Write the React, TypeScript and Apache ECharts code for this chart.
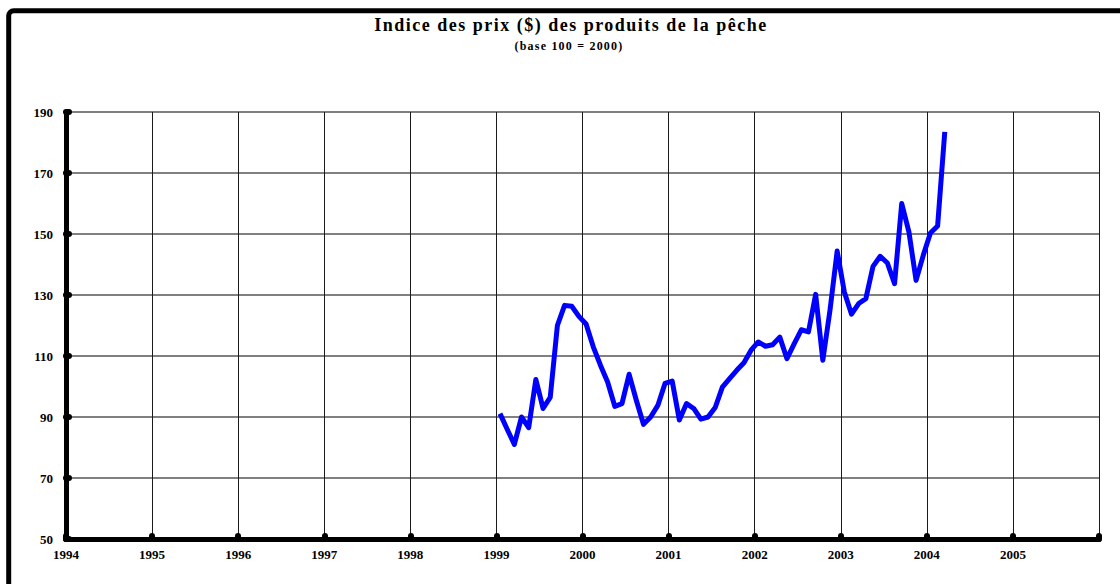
import React, { useEffect, useRef } from "react";
import * as echarts from "echarts";

const titleText = "Indice des prix ($) des produits de la pêche";
const subtitleText = "(base 100 = 2000)";
const startYear = 1999;
// monthly index values, Jan 1999 .. Mar 2004
const values1999 = [91.1, 86, 81, 90, 86.5, 102.3, 92.8, 96.4, 120, 126.6, 126.3, 123];
const values2000 = [120.5, 113, 107, 101.5, 93.5, 94.4, 104, 95.5, 87.6, 90, 93.8, 101];
const values2001 = [101.8, 89, 94.4, 92.8, 89.3, 90, 93.1, 99.8, 102.6, 105.3, 107.8, 111.9];
const values2002 = [114.6, 113.2, 113.7, 116.2, 109.1, 114, 118.6, 117.9, 130.2, 108.6, 125, 144.4];
const values2003 = [131, 123.7, 127.2, 128.8, 139.4, 142.7, 140.5, 133.7, 160, 150.7, 134.8, 143];
const values2004 = [150.3, 152.6, 183.5];
const xMinYear = 1994;
const xMaxYear = 2006;
const yMin = 50;
const yMax = 190;
const yStep = 20;

const allValues = [
  ...values1999,
  ...values2000,
  ...values2001,
  ...values2002,
  ...values2003,
  ...values2004,
];

export default function App() {
  const ref = useRef<HTMLDivElement>(null);
  useEffect(() => {
    if (!ref.current) return;
    const chart = echarts.init(ref.current, null, { renderer: "svg" });
    const data = allValues.map((v, i) => [startYear + (i + 0.5) / 12, v]);
    const font = "Liberation Serif";
    chart.setOption({
      animation: false,
      backgroundColor: "#ffffff",
      grid: { left: 66, right: 21, top: 112, bottom: 45, containLabel: false },
      graphic: [
        {
          type: "rect",
          shape: { x: 8.7, y: 10.8, width: 2000, height: 2000, r: 5 },
          style: { fill: "none", stroke: "#000", lineWidth: 5 },
          silent: true,
        },
        {
          type: "text",
          x: 571,
          y: 25,
          silent: true,
          style: {
            text: titleText,
            fontFamily: font,
            fontWeight: "bold",
            fontSize: 18,
            fill: "#000",
            textAlign: "center",
            textVerticalAlign: "middle",
          },
        },
        {
          type: "text",
          x: 569,
          y: 46,
          silent: true,
          style: {
            text: subtitleText,
            fontFamily: font,
            fontWeight: "bold",
            fontSize: 12,
            fill: "#000",
            textAlign: "center",
            textVerticalAlign: "middle",
          },
        },
      ],
      xAxis: {
        type: "value",
        min: xMinYear,
        max: xMaxYear,
        interval: 1,
        axisLine: { show: true, lineStyle: { color: "#000", width: 5 } },
        axisTick: {
          show: true,
          inside: true,
          length: 3,
          lineStyle: { color: "#000", width: 6, cap: "round" },
        },
        axisLabel: {
          color: "#000",
          fontFamily: font,
          fontWeight: "bold",
          fontSize: 13,
          margin: 9,
          formatter: (v: number) => (v >= xMaxYear ? "" : String(v)),
        },
        splitLine: { show: true, lineStyle: { color: "#1a1a1a", width: 1 } },
      },
      yAxis: {
        type: "value",
        min: yMin,
        max: yMax,
        interval: yStep,
        axisLine: { show: true, lineStyle: { color: "#000", width: 5 } },
        axisTick: {
          show: true,
          inside: true,
          length: 3,
          lineStyle: { color: "#000", width: 6, cap: "round" },
        },
        axisLabel: {
          color: "#000",
          fontFamily: font,
          fontWeight: "bold",
          fontSize: 13,
          margin: 13,
        },
        splitLine: { show: true, lineStyle: { color: "#808080", width: 2 } },
      },
      series: [
        {
          type: "line",
          data,
          showSymbol: false,
          symbol: "none",
          lineStyle: { color: "#0000ff", width: 5, join: "round" },
          z: 5,
        },
      ],
    });
    // widen the tracking of the title texts, as in the reference
    const texts = ref.current.querySelectorAll("text");
    texts.forEach((t) => {
      const s = t.textContent || "";
      if (s === titleText) (t as any).style.letterSpacing = "1.5px";
      else if (s === subtitleText) (t as any).style.letterSpacing = "1.2px";
    });
    return () => chart.dispose();
  }, []);
  return (
    <div
      ref={ref}
      style={{ position: "absolute", left: 0, top: 0, width: 1120, height: 584 }}
    />
  );
}
